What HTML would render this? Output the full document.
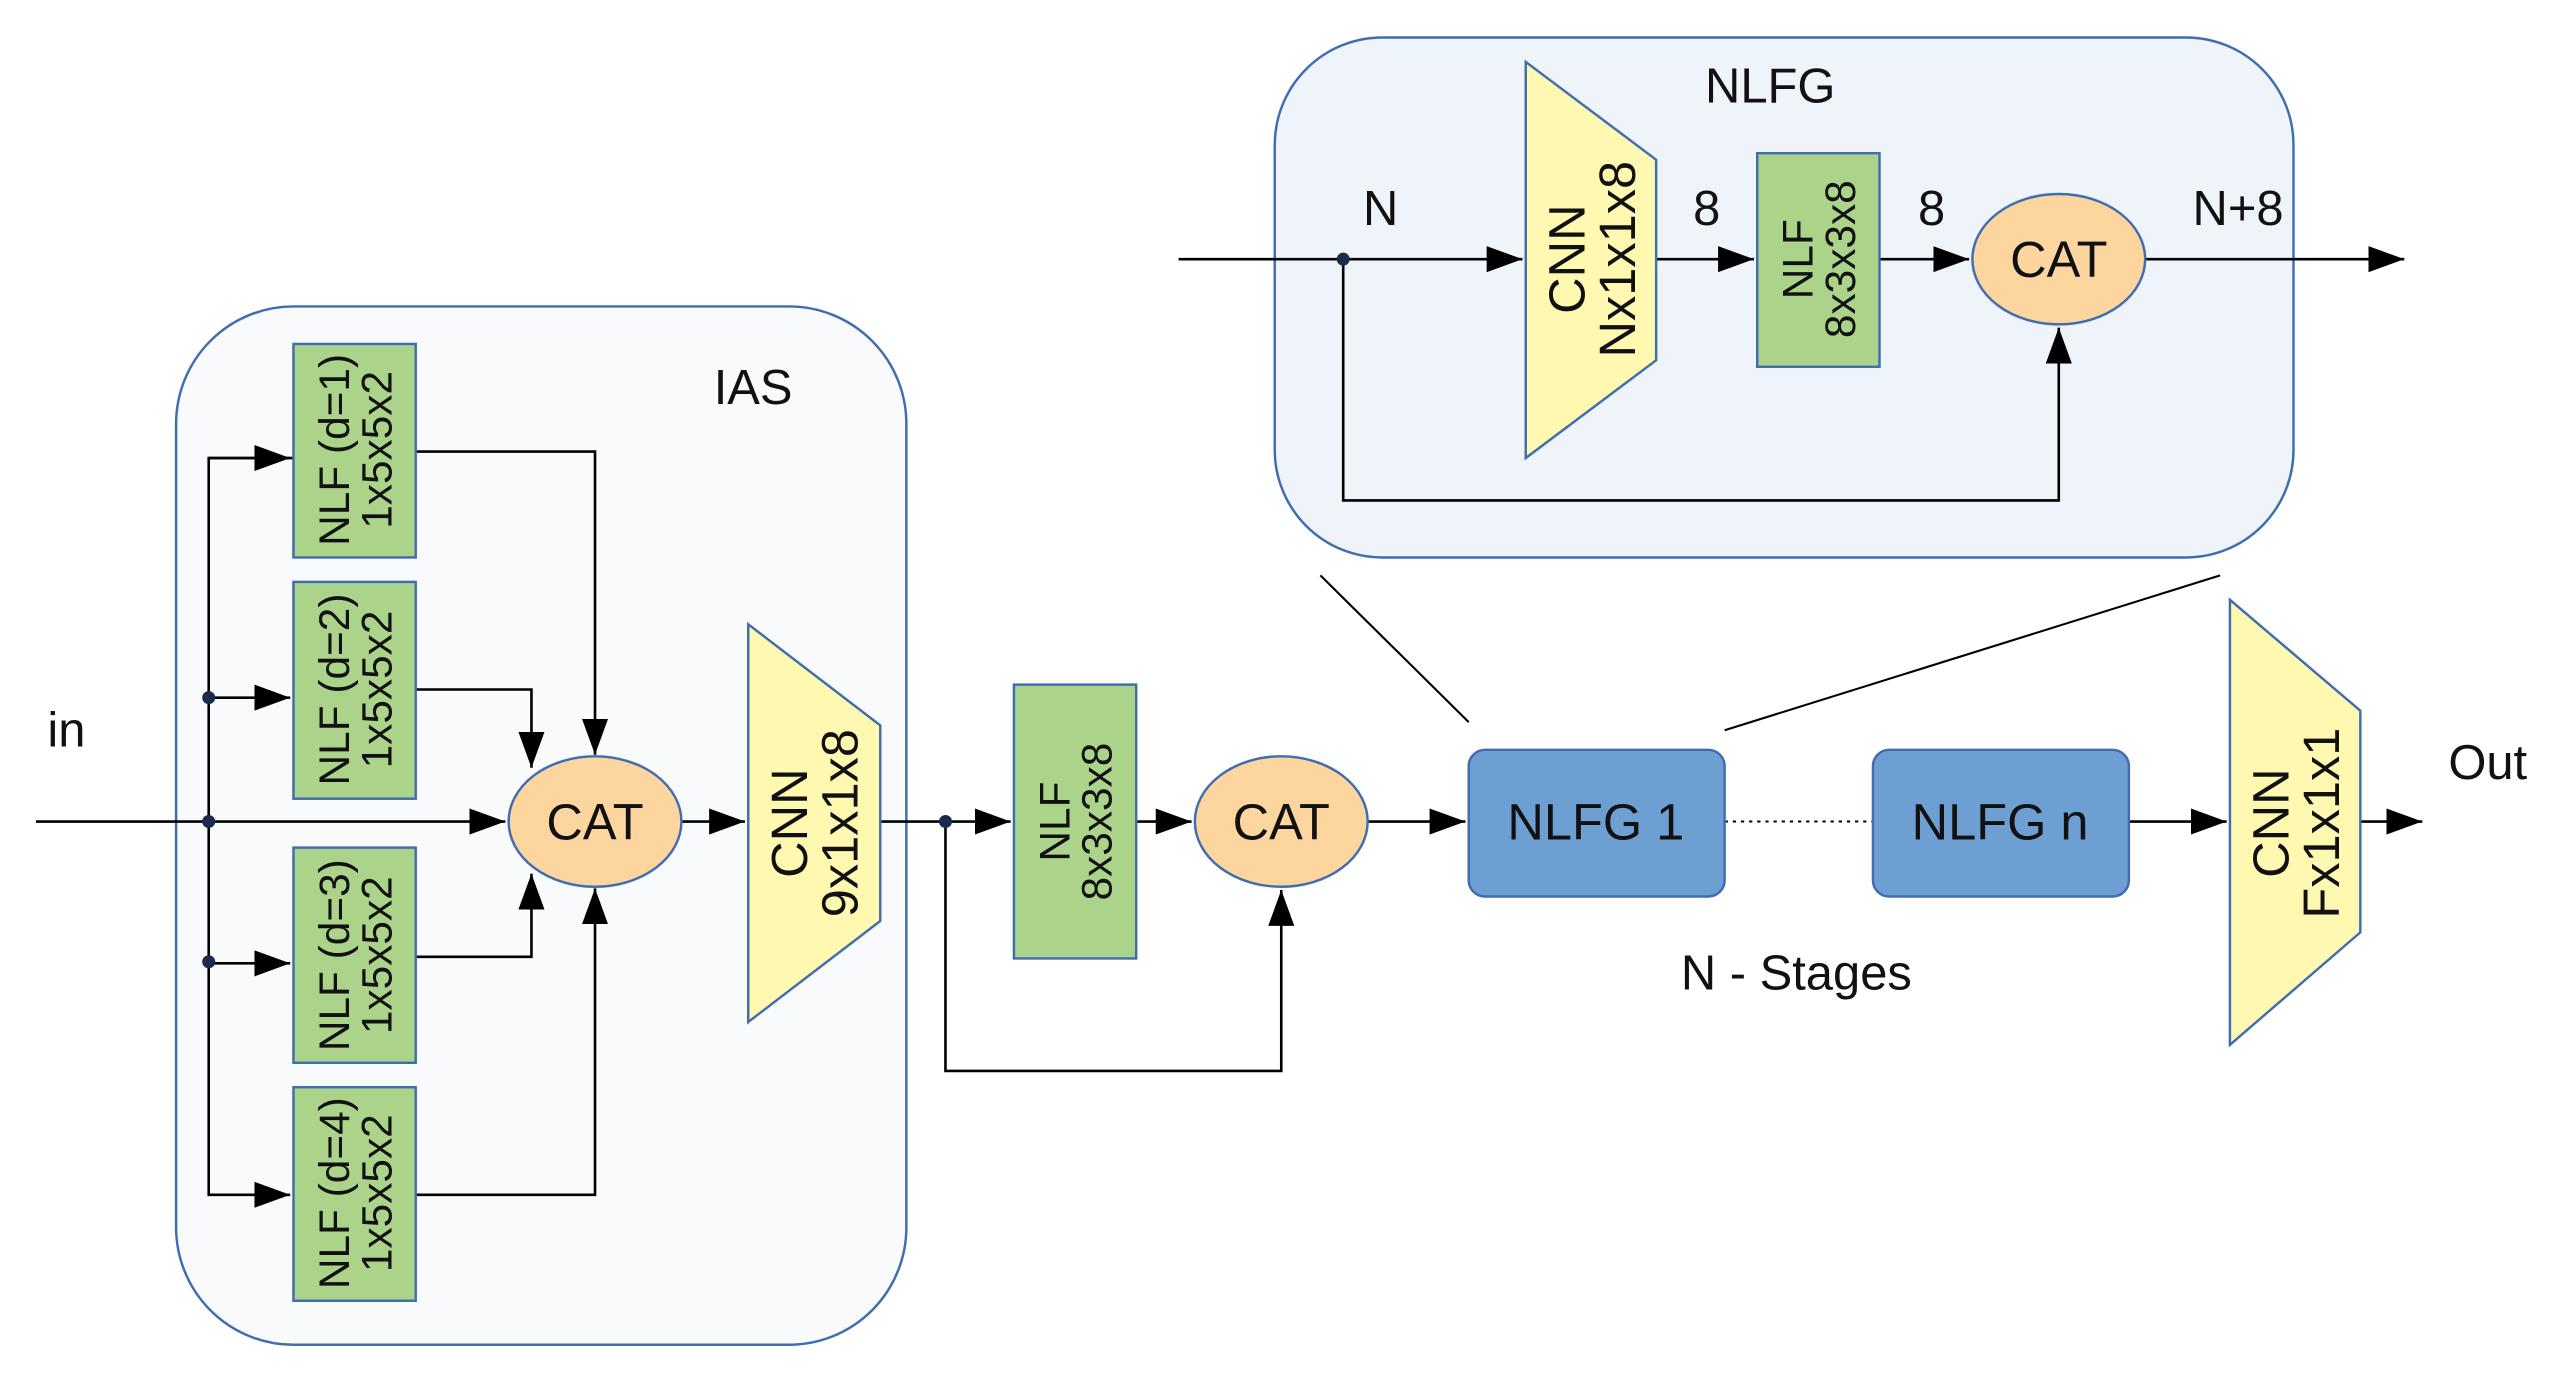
<!DOCTYPE html>
<html><head><meta charset="utf-8"><style>
html,body{margin:0;padding:0;background:#fff;}
svg{display:block}
text{font-family:"Liberation Sans",sans-serif;fill:#111;}
</style></head><body>
<svg width="2556" height="1379" viewBox="0 0 1568 846" xmlns="http://www.w3.org/2000/svg">
<defs>
<marker id="a" viewBox="0 0 22 16" refX="22" refY="8" markerWidth="22" markerHeight="16" markerUnits="userSpaceOnUse" orient="auto"><path d="M0,0 L22,8 L0,16 z" fill="#000"/></marker>
</defs>
<rect x="108" y="188" width="448" height="637" rx="72" fill="#f9fafc" stroke="#3f6db0" stroke-width="1.5"/>
<rect x="782" y="23" width="625" height="319" rx="66" fill="#eef4fa" stroke="#3f6db0" stroke-width="1.5"/>
<text x="462" y="248" font-size="30" text-anchor="middle">IAS</text>
<text x="1086" y="63" font-size="30" text-anchor="middle">NLFG</text>

<g stroke="#000" stroke-width="1.6" fill="none">
<line x1="22" y1="504" x2="310" y2="504" marker-end="url(#a)"/>
<polyline points="180,281 128,281 128,733 178,733" marker-end="url(#a)"/>
<line x1="128" y1="428" x2="178" y2="428" marker-end="url(#a)"/>
<line x1="128" y1="591" x2="178" y2="591" marker-end="url(#a)"/>
<line x1="128" y1="281" x2="178" y2="281" marker-end="url(#a)"/>
<polyline points="255,277 365,277 365,463" marker-end="url(#a)"/>
<polyline points="255,423 326,423 326,471" marker-end="url(#a)"/>
<polyline points="255,587 326,587 326,536" marker-end="url(#a)"/>
<polyline points="255,733 365,733 365,545" marker-end="url(#a)"/>
<line x1="418" y1="504" x2="457" y2="504" marker-end="url(#a)"/>
<line x1="540" y1="504" x2="620" y2="504" marker-end="url(#a)"/>
<line x1="697" y1="504" x2="731" y2="504" marker-end="url(#a)"/>
<polyline points="580,504 580,657 786,657 786,546" marker-end="url(#a)"/>
<line x1="839" y1="504" x2="899" y2="504" marker-end="url(#a)"/>
<line x1="1306" y1="504" x2="1366" y2="504" marker-end="url(#a)"/>
<line x1="1448" y1="504" x2="1486" y2="504" marker-end="url(#a)"/>
<line x1="1058" y1="504" x2="1149" y2="504" stroke-dasharray="2,3" stroke-width="1.2"/>
<line x1="810" y1="353" x2="901" y2="443" stroke-width="1.3"/>
<line x1="1362" y1="353" x2="1058" y2="448" stroke-width="1.3"/>
<line x1="723" y1="159" x2="934" y2="159" marker-end="url(#a)"/>
<line x1="1016" y1="159" x2="1076" y2="159" marker-end="url(#a)"/>
<line x1="1153" y1="159" x2="1208" y2="159" marker-end="url(#a)"/>
<line x1="1316" y1="159" x2="1475" y2="159" marker-end="url(#a)"/>
<polyline points="824,159 824,307 1263,307 1263,201" marker-end="url(#a)"/>
</g>
<g fill="#1a2a4a">
<circle cx="128" cy="428" r="4"/><circle cx="128" cy="504" r="4"/><circle cx="128" cy="590" r="4"/>
<circle cx="580" cy="504" r="4"/><circle cx="824" cy="159" r="4"/>
</g>

<g fill="#acd38a" stroke="#3f6db0" stroke-width="1.5">
<rect x="180" y="211" width="75" height="131"/>
<rect x="180" y="357" width="75" height="133"/>
<rect x="180" y="520" width="75" height="132"/>
<rect x="180" y="667" width="75" height="131"/>
<rect x="622" y="420" width="75" height="168"/>
<rect x="1078" y="94" width="75" height="131"/>
</g>
<g font-size="26" text-anchor="middle">
<text transform="translate(217,276) rotate(-90)"><tspan x="0" y="-3">NLF (d=1)</tspan><tspan x="0" y="23">1x5x5x2</tspan></text>
<text transform="translate(217,423) rotate(-90)"><tspan x="0" y="-3">NLF (d=2)</tspan><tspan x="0" y="23">1x5x5x2</tspan></text>
<text transform="translate(217,586) rotate(-90)"><tspan x="0" y="-3">NLF (d=3)</tspan><tspan x="0" y="23">1x5x5x2</tspan></text>
<text transform="translate(217,732) rotate(-90)"><tspan x="0" y="-3">NLF (d=4)</tspan><tspan x="0" y="23">1x5x5x2</tspan></text>
<text transform="translate(659,504) rotate(-90)"><tspan x="0" y="-3">NLF</tspan><tspan x="0" y="23">8x3x3x8</tspan></text>
<text transform="translate(1115,159) rotate(-90)"><tspan x="0" y="-3">NLF</tspan><tspan x="0" y="23">8x3x3x8</tspan></text>
</g>

<g fill="#fff8b0" stroke="#3f6db0" stroke-width="1.5">
<polygon points="459,383 540,445 540,565 459,627"/>
<polygon points="1368,368 1448,436 1448,572 1368,641"/>
<polygon points="936,38 1016,98 1016,221 936,281"/>
</g>
<g font-size="31" text-anchor="middle">
<text transform="translate(499,505) rotate(-90)"><tspan x="0" y="-4">CNN</tspan><tspan x="0" y="27">9x1x1x8</tspan></text>
<text transform="translate(1408,505) rotate(-90)"><tspan x="0" y="-4">CNN</tspan><tspan x="0" y="27">Fx1x1x1</tspan></text>
<text transform="translate(976,159) rotate(-90)"><tspan x="0" y="-4">CNN</tspan><tspan x="0" y="27">Nx1x1x8</tspan></text>
</g>

<g fill="#fdd59f" stroke="#3f6db0" stroke-width="1.5">
<ellipse cx="365" cy="504" rx="53" ry="40"/>
<ellipse cx="786" cy="504" rx="53" ry="40"/>
<ellipse cx="1263" cy="159" rx="53" ry="40"/>
</g>
<g font-size="31" text-anchor="middle">
<text x="365" y="515">CAT</text>
<text x="786" y="515">CAT</text>
<text x="1263" y="170">CAT</text>
</g>

<g fill="#6e9fd3" stroke="#3f6db0" stroke-width="1.5">
<rect x="901" y="460" width="157" height="90" rx="10"/>
<rect x="1149" y="460" width="157" height="90" rx="10"/>
</g>
<g font-size="31" text-anchor="middle">
<text x="979" y="515">NLFG 1</text>
<text x="1227" y="515">NLFG n</text>
</g>

<g font-size="30">
<text x="29" y="458">in</text>
<text x="1502" y="478">Out</text>
<text x="1102" y="607" text-anchor="middle">N - Stages</text>
<text x="847" y="138" text-anchor="middle">N</text>
<text x="1047" y="138" text-anchor="middle">8</text>
<text x="1185" y="138" text-anchor="middle">8</text>
<text x="1373" y="138" text-anchor="middle">N+8</text>
</g>
</svg>
</body></html>
